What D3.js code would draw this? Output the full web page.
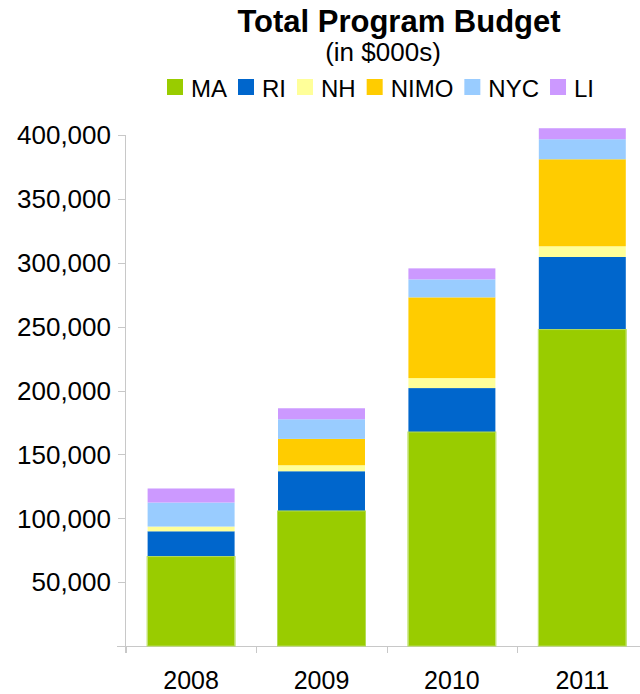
<!DOCTYPE html>
<html>
<head>
<meta charset="utf-8">
<script src="https://cdnjs.cloudflare.com/ajax/libs/d3/7.8.5/d3.min.js"></script>
<style>
  body { margin: 0; background: #fff; }
  svg { display: block; font-family: "Liberation Sans", Arial, sans-serif; }
</style>
</head>
<body>
<div id="chart"></div>
<script>
// values in $000s
var years = ["2008", "2009", "2010", "2011"];
var MA   = [70000, 105700, 167500, 247700];
var RI   = [19800, 31100, 34400, 56800];
var NH   = [3700, 4700, 7800, 8400];
var NIMO = [0, 20600, 63200, 68100];
var NYC  = [18800, 15400, 14100, 15700];
var LI   = [11000, 8600, 8600, 8600];
var seriesNames = ["MA", "RI", "NH", "NIMO", "NYC", "LI"];
var seriesColors = ["#99cc00", "#0066cc", "#ffff99", "#ffcc00", "#99ccff", "#cc99ff"];
var yTicks = [50000, 100000, 150000, 200000, 250000, 300000, 350000, 400000];

var w = 640, h = 694;
var seriesVals = {MA: MA, RI: RI, NH: NH, NIMO: NIMO, NYC: NYC, LI: LI};
var rows = years.map(function(y, i) {
  var r = {year: y};
  seriesNames.forEach(function(s) { r[s] = seriesVals[s][i]; });
  return r;
});

var svg = d3.select("#chart").append("svg")
  .attr("width", w).attr("height", h);

var x = d3.scaleBand().domain(years)
  .range([125.9, 647.5])
  .paddingInner(0.333).paddingOuter(0.1665);
var y = d3.scaleLinear().domain([0, 400000]).range([646, 135]);
var color = d3.scaleOrdinal().domain(seriesNames).range(seriesColors);

var stack = d3.stack().keys(seriesNames)(rows);

// axes (light grey lines)
var axisCol = "#c8c8c8";
svg.append("line")
  .attr("x1", 125.5).attr("x2", 125.5)
  .attr("y1", y(400000)).attr("y2", y(0) + 7)
  .attr("stroke", axisCol);
svg.append("line")
  .attr("x1", 117).attr("x2", w)
  .attr("y1", y(0) + 0.5).attr("y2", y(0) + 0.5)
  .attr("stroke", axisCol);

svg.selectAll(".ytick").data(yTicks).enter().append("line")
  .attr("x1", 118).attr("x2", 125.5)
  .attr("y1", function(d) { return Math.round(y(d)) + 0.5; })
  .attr("y2", function(d) { return Math.round(y(d)) + 0.5; })
  .attr("stroke", axisCol);

svg.selectAll(".ylab").data(yTicks).enter().append("text")
  .attr("x", 111)
  .attr("y", function(d) { return y(d); })
  .attr("dy", "0.36em")
  .attr("text-anchor", "end")
  .attr("font-size", "26px")
  .attr("fill", "#000")
  .text(d3.format(","));

var gapHalf = (x.step() - x.bandwidth()) / 2;
svg.selectAll(".xtick").data(years).enter().append("line")
  .attr("x1", function(d) { return Math.round(x(d) - gapHalf) + 0.5; })
  .attr("x2", function(d) { return Math.round(x(d) - gapHalf) + 0.5; })
  .attr("y1", y(0)).attr("y2", y(0) + 7)
  .attr("stroke", axisCol);

svg.selectAll(".xlab").data(years).enter().append("text")
  .attr("x", function(d) { return x(d) + x.bandwidth() / 2; })
  .attr("y", 689)
  .attr("text-anchor", "middle")
  .attr("font-size", "25px")
  .attr("fill", "#000")
  .text(function(d) { return d; });

// stacked bars
svg.selectAll(".layer").data(stack).enter().append("g")
  .attr("fill", function(d) { return color(d.key); })
  .selectAll("rect").data(function(d) { return d; }).enter().append("rect")
    .attr("x", function(d) { return x(d.data.year); })
    .attr("width", x.bandwidth())
    .attr("y", function(d) { return y(d[1]); })
    .attr("height", function(d) { return y(d[0]) - y(d[1]); });

// MA bars have a faint lighter rim
svg.selectAll(".rim").data(stack[0]).enter().append("rect")
  .attr("x", function(d) { return x(d.data.year) - 0.5; })
  .attr("width", x.bandwidth() + 1)
  .attr("y", function(d) { return y(d[1]); })
  .attr("height", function(d) { return y(d[0]) - y(d[1]); })
  .attr("fill", "none")
  .attr("stroke", "#b5dd55")
  .attr("stroke-width", 1);

// title
svg.append("text")
  .attr("x", 399).attr("y", 32)
  .attr("text-anchor", "middle")
  .attr("font-size", "31px")
  .attr("font-weight", "bold")
  .text("Total Program Budget");
svg.append("text")
  .attr("x", 383).attr("y", 61)
  .attr("text-anchor", "middle")
  .attr("font-size", "26px")
  .text("(in $000s)");

// legend
var lx = 167;
seriesNames.forEach(function(s) {
  svg.append("rect")
    .attr("x", lx).attr("y", 79)
    .attr("width", 16).attr("height", 16)
    .attr("fill", color(s));
  var t = svg.append("text")
    .attr("x", lx + 24).attr("y", 97)
    .attr("font-size", "24px")
    .text(s);
  lx += 24 + t.node().getComputedTextLength() + 11;
});
</script>
</body>
</html>
